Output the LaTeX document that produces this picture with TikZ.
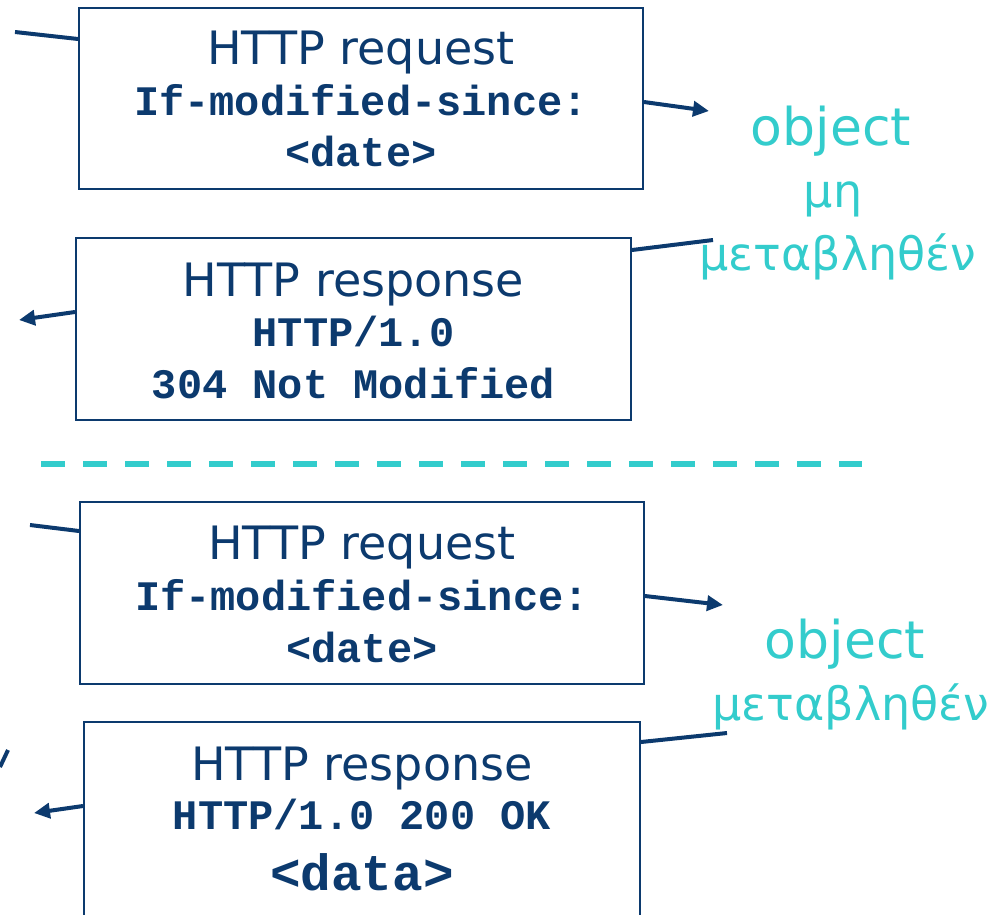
\documentclass[tikz,border=0pt]{standalone}
\usepackage{fontspec}
\setmainfont{DejaVu Sans}
\newfontfamily\monofam{Liberation Mono}
\usetikzlibrary{arrows.meta,calc}
\definecolor{navy}{RGB}{12,58,110}
\definecolor{aqua}{RGB}{51,204,204}
\begin{document}
\begin{tikzpicture}[x=1pt,y=-1pt,
  msgbox/.style={draw=navy,line width=2pt,rectangle,inner sep=0pt},
  title/.style={font=\fontsize{46}{46}\selectfont,text=navy,anchor=base,inner sep=0pt},
  mono/.style={font=\monofam\bfseries\fontsize{42}{42}\selectfont,text=navy,anchor=base,inner sep=0pt},
  bigmono/.style={font=\monofam\bfseries\fontsize{51}{51}\selectfont,text=navy,anchor=base,inner sep=0pt},
  note/.style={font=\fontsize{46}{46}\selectfont,text=aqua,anchor=base,inner sep=0pt},
  bignote/.style={font=\fontsize{52}{52}\selectfont,text=aqua,anchor=base,inner sep=0pt},
  link/.style={draw=navy,line width=4pt},
  msg/.style={link,-{Triangle[length=16pt,width=15pt]}},
  divider/.style={draw=aqua,line width=6pt,dash pattern=on 24pt off 18pt}]
\useasboundingbox (0,0) rectangle (992,914);
\clip (0,0) rectangle (992,914);

% boxes
\node[msgbox,minimum width=564pt,minimum height=181pt] (b1) at (361,98.5) {};
\node[msgbox,minimum width=555pt,minimum height=182pt] (b2) at (353.5,329) {};
\node[msgbox,minimum width=564pt,minimum height=182pt] (b3) at (362,593) {};
\node[msgbox,minimum width=556pt,minimum height=240pt] (b4) at (362,842) {};

% box texts
\node[title] (t1a) at (361,64) {HTTP request};
\node[mono]  (t1b) at (361,115) {If-modified-since:};
\node[mono]  (t1c) at (361,166) {<date>};

\node[title] (t2a) at (353.5,296) {HTTP response};
\node[mono]  (t2b) at (353.5,346) {HTTP/1.0};
\node[mono]  (t2c) at (353.5,398) {304 Not Modified};

\node[title] (t3a) at (362,559) {HTTP request};
\node[mono]  (t3b) at (362,610) {If-modified-since:};
\node[mono]  (t3c) at (362,662) {<date>};

\node[title] (t4a) at (362,780) {HTTP response};
\node[mono]  (t4b) at (362,829) {HTTP/1.0 200 OK};
\node[bigmono] (t4c) at (362,890) {<data>};

% notes
\node[bignote] (n1a) at (831,145) {object};
\node[note] (n1b) at (833,207) {μη};
\node[note] (n1c) at (838,270) {μεταβληθέν};
\node[bignote] (n2a) at (845,658) {object};
\node[note] (n2b) at (851,720) {μεταβληθέν};

% free ends
\coordinate (c1) at (15,32);
\coordinate (a1) at (709,111);
\coordinate (c2) at (713,240);
\coordinate (a2) at (19,320);
\coordinate (c3) at (30,525);
\coordinate (a3) at (723,605);
\coordinate (c4) at (727,733);
\coordinate (a4) at (34,813);
\coordinate (s1) at (8,750);
\coordinate (s2) at (0,767);
\coordinate (d1) at (41,464);
\coordinate (d2) at (862,464);

% connectors
\draw[link] (c1) -- ($(b1.north west)+(0,32)$);
\draw[msg] ($(b1.north east)+(0,95)$) -- (a1);
\draw[link] ($(b2.north east)+(0,13)$) -- (c2);
\draw[msg] ($(b2.north west)+(0,75)$) -- (a2);
\draw[link] (c3) -- ($(b3.north west)+(0,30)$);
\draw[msg] ($(b3.north east)+(0,95)$) -- (a3);
\draw[link] ($(b4.north east)+(0,21)$) -- (c4);
\draw[msg] ($(b4.north west)+(0,85)$) -- (a4);
\draw[link] (s1) -- (s2);

% divider
\draw[divider] (d1) -- (d2);
\end{tikzpicture}
\end{document}
